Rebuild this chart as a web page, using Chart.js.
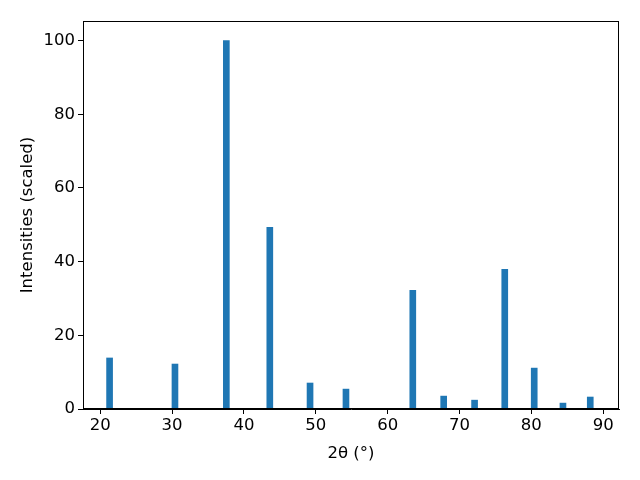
<!DOCTYPE html>
<html>
<head>
<meta charset="utf-8">
<script src="https://cdn.jsdelivr.net/npm/chart.js@4"></script>
<style>
  html, body { margin: 0; padding: 0; background: #fff; }
</style>
</head>
<body>
<canvas id="chart" width="640" height="480"></canvas>
<script>
var twoTheta = [21.3, 30.4, 37.55, 43.6, 49.2, 54.2, 63.5, 67.8, 72.1, 76.3, 80.4, 84.4, 88.2];
var intensities = [13.85, 12.2, 100, 49.3, 7.05, 5.4, 32.2, 3.5, 2.4, 37.9, 11.1, 1.6, 3.25];
var xTicks = [20, 30, 40, 50, 60, 70, 80, 90];
var yTicks = [0, 20, 40, 60, 80, 100];

var points = twoTheta.map(function (x, i) { return { x: x, y: intensities[i] }; });

var frame = {
    id: 'frame',
    afterDatasetsDraw: function (chart) {
        var a = chart.chartArea, ctx = chart.ctx;
        ctx.save();
        ctx.strokeStyle = '#000';
        ctx.lineWidth = 1;
        ctx.strokeRect(a.left + 0.5, a.top + 0.5, a.right - a.left - 1, a.bottom - a.top - 1);
        ctx.restore();
    }
};

new Chart(document.getElementById('chart').getContext('2d'), {
    type: 'bar',
    data: {
        datasets: [{
            data: points,
            backgroundColor: '#1f77b4',
            barThickness: 6
        }]
    },
    options: {
        responsive: false,
        devicePixelRatio: 1,
        animation: false,
        layout: { padding: { left: 18, top: 21, right: 21, bottom: 12 } },
        plugins: { legend: { display: false }, tooltip: { enabled: false } },
        scales: {
            x: {
                type: 'linear',
                offset: false,
                min: 17.6,
                max: 92.2,
                afterBuildTicks: function (s) { s.ticks = xTicks.map(function (v) { return { value: v }; }); },
                afterFit: function (s) { s.height = 59; },
                grid: { offset: false, drawOnChartArea: false, tickLength: 5, color: '#000' },
                border: { color: '#000' },
                ticks: { color: '#000', font: { family: 'DejaVu Sans', size: 16.5 }, padding: 2, maxRotation: 0 },
                title: { display: true, text: '2θ (°)', color: '#000', font: { family: 'DejaVu Sans', size: 16.5 }, padding: { top: 3 } }
            },
            y: {
                min: 0,
                max: 105.3,
                afterBuildTicks: function (s) { s.ticks = yTicks.map(function (v) { return { value: v }; }); },
                afterFit: function (s) { s.width = 65; },
                grid: { drawOnChartArea: false, tickLength: 5, color: '#000' },
                border: { color: '#000' },
                ticks: { color: '#000', font: { family: 'DejaVu Sans', size: 16.5 }, padding: 3 },
                title: { display: true, text: 'Intensities (scaled)', color: '#000', font: { family: 'DejaVu Sans', size: 16.5 }, padding: { top: 0, bottom: 4 } }
            }
        }
    },
    plugins: [frame]
});
</script>
</body>
</html>
